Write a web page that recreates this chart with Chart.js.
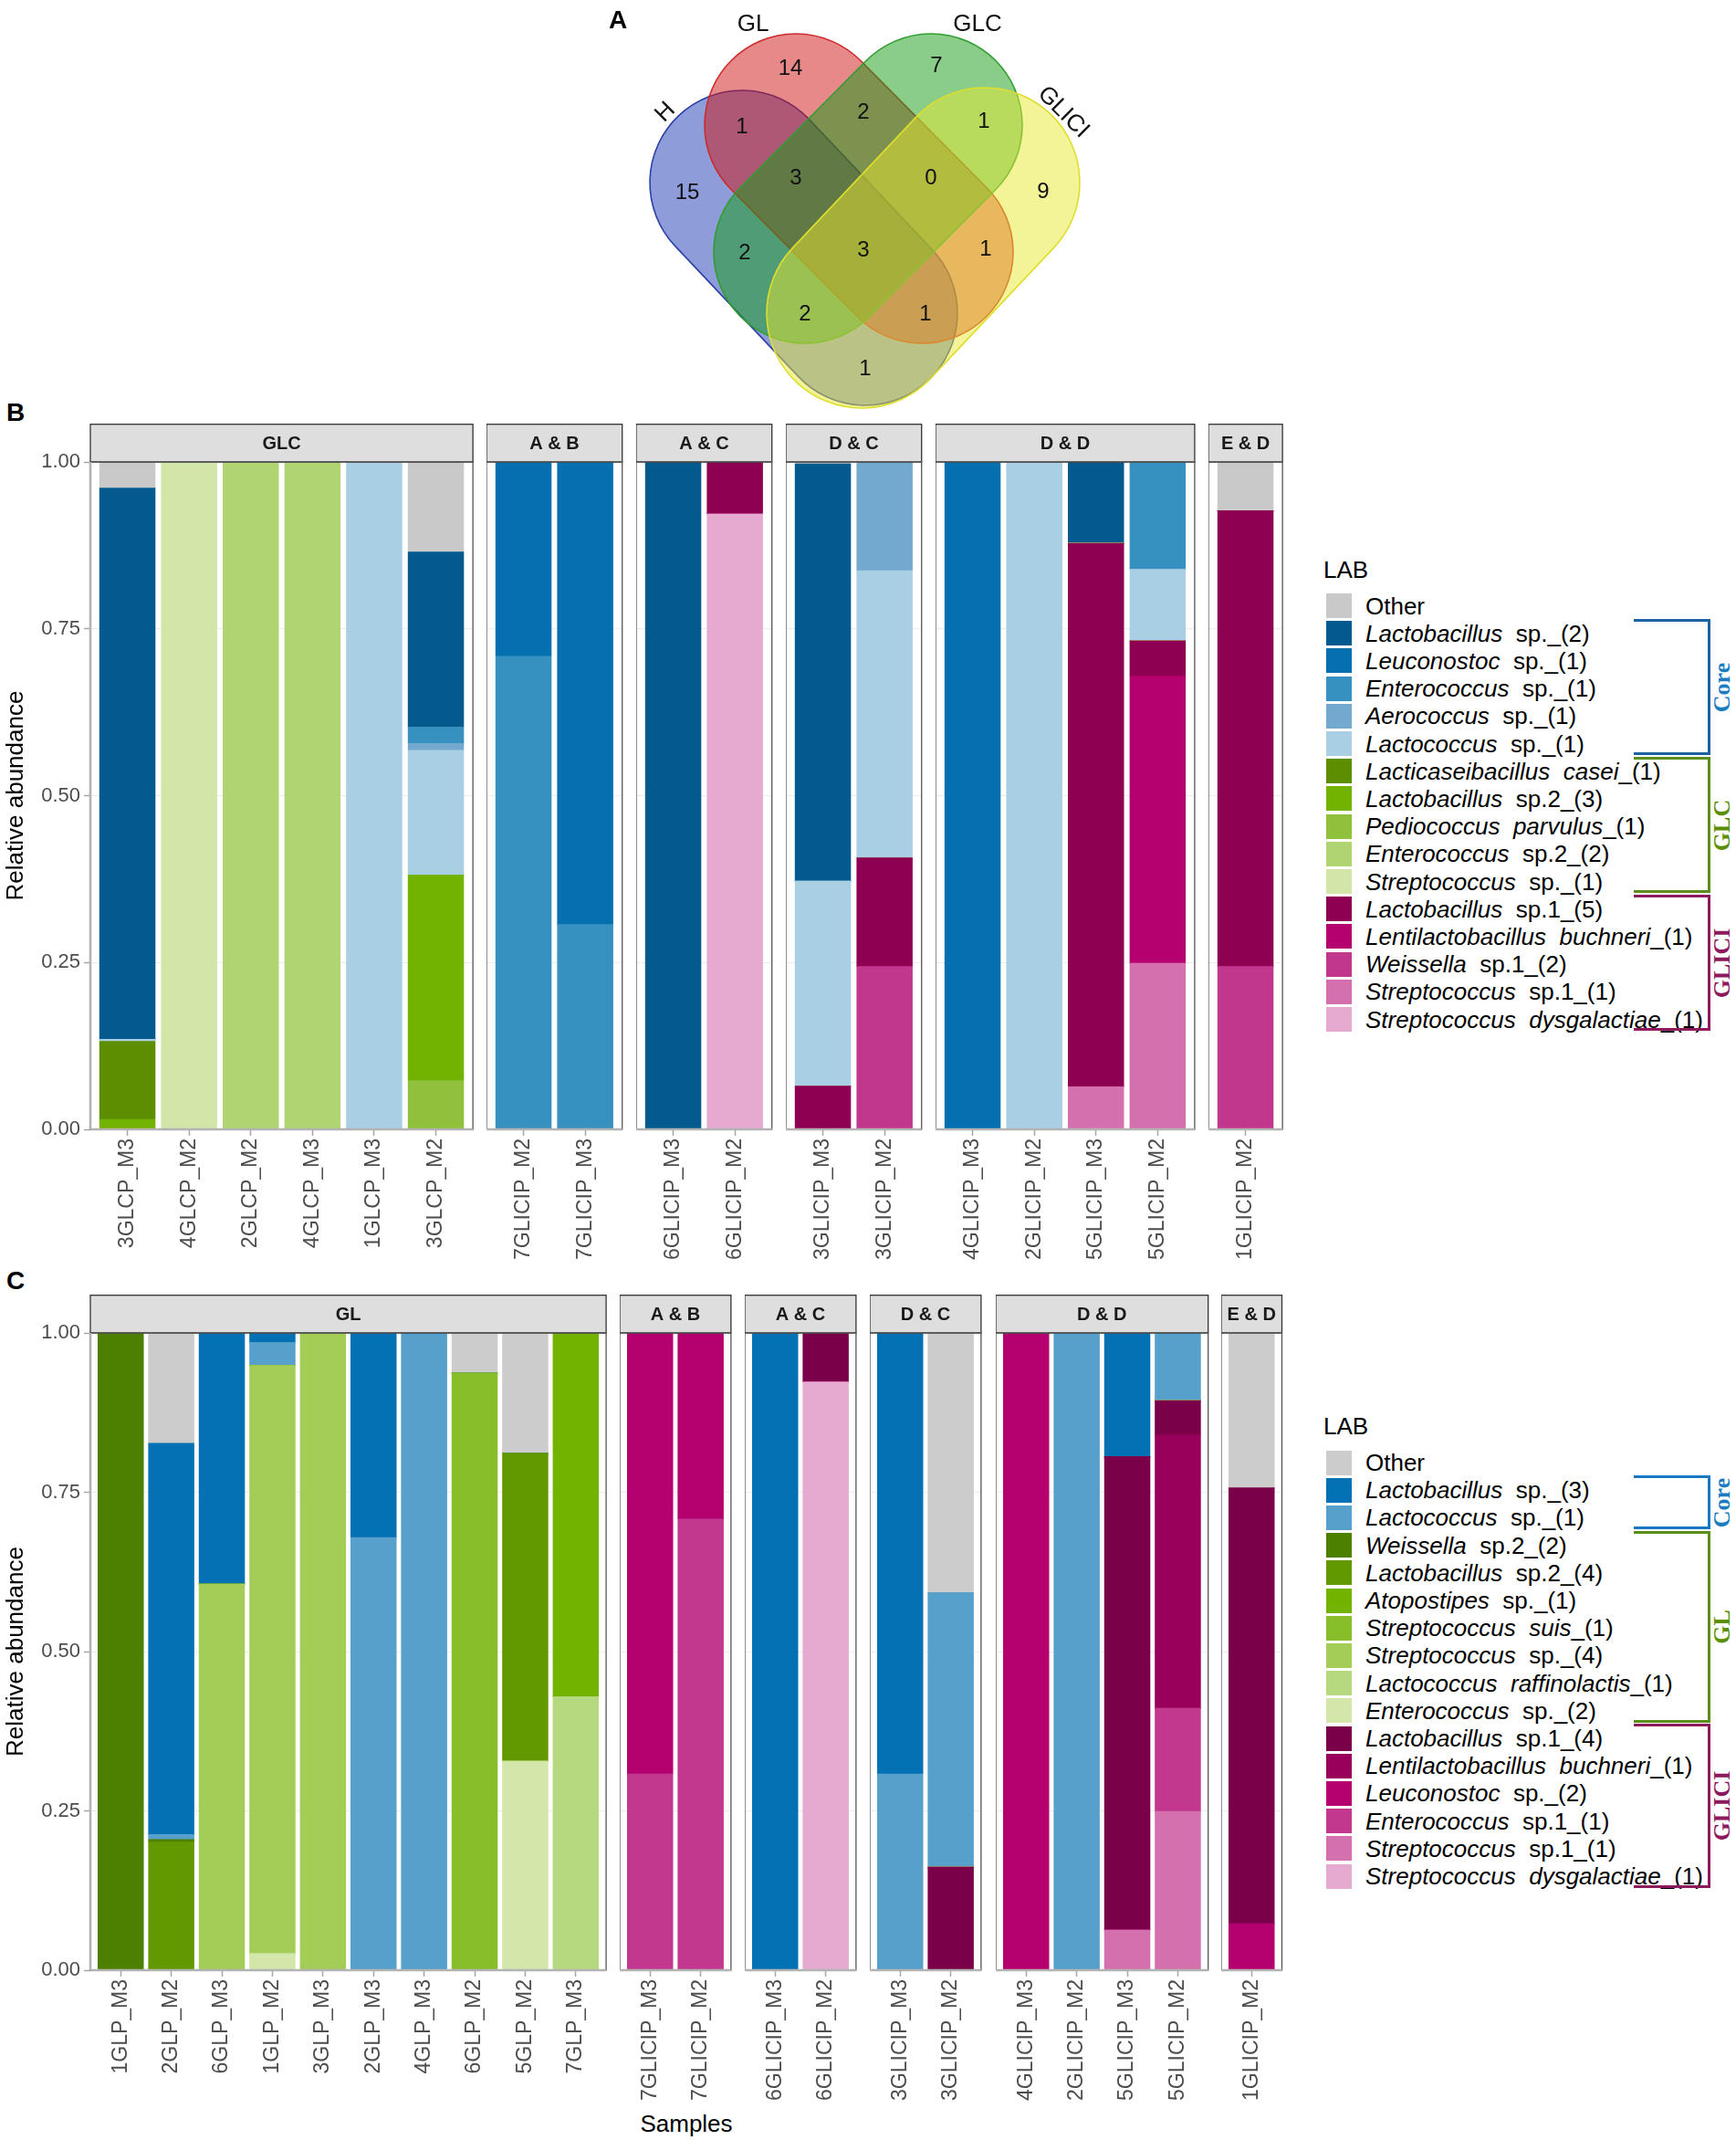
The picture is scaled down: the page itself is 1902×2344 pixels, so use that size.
<!DOCTYPE html>
<html>
<head>
<meta charset="utf-8">
<script src="https://cdn.jsdelivr.net/npm/chart.js@4.4.1/dist/chart.umd.min.js"></script>
<style>
body { margin: 0; background: #fff; }
#fig { position: relative; width: 1902px; height: 2344px; overflow: hidden;
       font-family: "Liberation Sans", Arial, sans-serif; color: #000; }
.abs { position: absolute; }
.tag { position: absolute; font-weight: bold; font-size: 28px; transform: translate(-50%, -50%); }
.legtitle { position: absolute; font-size: 26px; line-height: 30px; }
.legtext { position: absolute; font-size: 26px; line-height: 30px; white-space: pre; }
.sw { position: absolute; width: 28px; height: 27px; }
.brk { position: absolute; border-style: solid; border-width: 3px 3px 3px 0; box-sizing: border-box; }
.brktext { position: absolute; font-family: "Liberation Serif", "DejaVu Serif", serif; font-weight: bold;
           font-size: 26px; transform: translate(-50%, -50%) rotate(-90deg); white-space: nowrap; }
</style>
</head>
<body>
<div id="fig"></div>
<script>
// ---------- A: Venn ----------
const vennSets = ['H', 'GL', 'GLC', 'GLICI'];
const vennRegions = ['H', 'GL', 'GLC', 'GLICI', 'H&GL', 'GL&GLC', 'GLC&GLICI', 'H&GL&GLC',
  'GL&GLC&GLICI', 'H&GLC', 'H&GL&GLC&GLICI', 'GL&GLICI', 'H&GLC&GLICI', 'H&GL&GLICI', 'H&GLICI'];
const vennCounts = [15, 14, 7, 9, 1, 2, 1, 3, 0, 2, 3, 1, 2, 1, 1];

// ---------- B: GLC ----------
const samplesB = ['3GLCP_M3', '4GLCP_M2', '2GLCP_M2', '4GLCP_M3', '1GLCP_M3', '3GLCP_M2',
  '7GLICIP_M2', '7GLICIP_M3', '6GLICIP_M3', '6GLICIP_M2', '3GLICIP_M3', '3GLICIP_M2',
  '4GLICIP_M3', '2GLICIP_M2', '5GLICIP_M3', '5GLICIP_M2', '1GLICIP_M2'];
const facetsB = ['GLC', 'A & B', 'A & C', 'D & C', 'D & D', 'E & D'];
const facetSizesB = [6, 2, 2, 2, 4, 1];
const taxaB = ['Other', 'Lactobacillus sp._(2)', 'Leuconostoc sp._(1)', 'Enterococcus sp._(1)',
  'Aerococcus sp._(1)', 'Lactococcus sp._(1)', 'Lacticaseibacillus casei_(1)', 'Lactobacillus sp.2_(3)',
  'Pediococcus parvulus_(1)', 'Enterococcus sp.2_(2)', 'Streptococcus sp._(1)', 'Lactobacillus sp.1_(5)',
  'Lentilactobacillus buchneri_(1)', 'Weissella sp.1_(2)', 'Streptococcus sp.1_(1)', 'Streptococcus dysgalactiae_(1)'];
const colorsB = ['#c9c9c9', '#045a8d', '#0570b0', '#3690c0', '#74a9cf', '#a9cfe5', '#5b8e00', '#72b200',
  '#8fc13a', '#b1d472', '#d1e6a8', '#8e0152', '#b5006f', '#c2378e', '#d470ad', '#e6a9cf'];

const bOther     = [0.039, 0, 0, 0, 0, 0.135, 0, 0, 0, 0, 0.003, 0, 0, 0, 0, 0, 0.073];
const bLactobSp  = [0.826, 0, 0, 0, 0, 0.262, 0, 0, 1, 0, 0.625, 0, 0, 0, 0.122, 0, 0];
const bLeuconSp  = [0, 0, 0, 0, 0, 0, 0.291, 0.693, 0, 0, 0, 0, 1, 0, 0, 0, 0];
const bEnteroSp  = [0, 0, 0, 0, 0, 0.025, 0.709, 0.307, 0, 0, 0, 0, 0, 0, 0, 0.161, 0];
const bAerocSp   = [0, 0, 0, 0, 0, 0.010, 0, 0, 0, 0, 0, 0.163, 0, 0, 0, 0, 0];
const bLactocSp  = [0.003, 0, 0, 0, 1, 0.187, 0, 0, 0, 0, 0.307, 0.430, 0, 1, 0, 0.107, 0];
const bCasei     = [0.117, 0, 0, 0, 0, 0, 0, 0, 0, 0, 0, 0, 0, 0, 0, 0, 0];
const bLactobSp2 = [0.015, 0, 0, 0, 0, 0.308, 0, 0, 0, 0, 0, 0, 0, 0, 0, 0, 0];
const bPedio     = [0, 0, 0, 0, 0, 0.073, 0, 0, 0, 0, 0, 0, 0, 0, 0, 0, 0];
const bEnteroSp2 = [0, 0, 1, 1, 0, 0, 0, 0, 0, 0, 0, 0, 0, 0, 0, 0, 0];
const bStrepSp   = [0, 1, 0, 0, 0, 0, 0, 0, 0, 0, 0, 0, 0, 0, 0, 0, 0];
const bLactobSp1 = [0, 0, 0, 0, 0, 0, 0, 0, 0, 0.078, 0.065, 0.163, 0, 0, 0.814, 0.053, 0.683];
const bLenti     = [0, 0, 0, 0, 0, 0, 0, 0, 0, 0, 0, 0, 0, 0, 0, 0.430, 0];
const bWeissSp1  = [0, 0, 0, 0, 0, 0, 0, 0, 0, 0, 0, 0.244, 0, 0, 0, 0, 0.244];
const bStrepSp1  = [0, 0, 0, 0, 0, 0, 0, 0, 0, 0, 0, 0, 0, 0, 0.064, 0.249, 0];
const bStrepDysg = [0, 0, 0, 0, 0, 0, 0, 0, 0, 0.922, 0, 0, 0, 0, 0, 0, 0];
const valuesB = [bOther, bLactobSp, bLeuconSp, bEnteroSp, bAerocSp, bLactocSp, bCasei, bLactobSp2,
  bPedio, bEnteroSp2, bStrepSp, bLactobSp1, bLenti, bWeissSp1, bStrepSp1, bStrepDysg];

// ---------- C: GL ----------
const samplesC = ['1GLP_M3', '2GLP_M2', '6GLP_M3', '1GLP_M2', '3GLP_M3', '2GLP_M3', '4GLP_M3', '6GLP_M2',
  '5GLP_M2', '7GLP_M3', '7GLICIP_M3', '7GLICIP_M2', '6GLICIP_M3', '6GLICIP_M2', '3GLICIP_M3', '3GLICIP_M2',
  '4GLICIP_M3', '2GLICIP_M2', '5GLICIP_M3', '5GLICIP_M2', '1GLICIP_M2'];
const facetsC = ['GL', 'A & B', 'A & C', 'D & C', 'D & D', 'E & D'];
const facetSizesC = [10, 2, 2, 2, 4, 1];
const taxaC = ['Other', 'Lactobacillus sp._(3)', 'Lactococcus sp._(1)', 'Weissella sp.2_(2)',
  'Lactobacillus sp.2_(4)', 'Atopostipes sp._(1)', 'Streptococcus suis_(1)', 'Streptococcus sp._(4)',
  'Lactococcus raffinolactis_(1)', 'Enterococcus sp._(2)', 'Lactobacillus sp.1_(4)',
  'Lentilactobacillus buchneri_(1)', 'Leuconostoc sp._(2)', 'Enterococcus sp.1_(1)',
  'Streptococcus sp.1_(1)', 'Streptococcus dysgalactiae_(1)'];
const colorsC = ['#cccccc', '#0571b5', '#56a0cc', '#4e8000', '#629900', '#72b300', '#89be2b', '#a3cd56',
  '#b6d97f', '#d2e7a9', '#7a0049', '#99005c', '#b5006f', '#c2388f', '#d470ad', '#e6a9cf'];

const cOther     = [0, 0.173, 0, 0, 0, 0, 0, 0.063, 0.189, 0, 0, 0, 0, 0, 0, 0.408, 0, 0, 0, 0, 0.243];
const cLactobSp  = [0, 0.614, 0.394, 0.015, 0, 0.321, 0, 0, 0, 0, 0, 0, 1, 0, 0.692, 0, 0, 0, 0.194, 0, 0];
const cLactocSp  = [0, 0.008, 0, 0.036, 0, 0.679, 1, 0, 0, 0, 0, 0, 0, 0, 0.308, 0.430, 0, 1, 0, 0.106, 0];
const cWeissSp2  = [1, 0.004, 0, 0, 0, 0, 0, 0, 0, 0, 0, 0, 0, 0, 0, 0, 0, 0, 0, 0, 0];
const cLactobSp2 = [0, 0.201, 0, 0, 0, 0, 0, 0, 0.483, 0, 0, 0, 0, 0, 0, 0, 0, 0, 0, 0, 0];
const cAtopo     = [0, 0, 0, 0, 0, 0, 0, 0, 0, 0.571, 0, 0, 0, 0, 0, 0, 0, 0, 0, 0, 0];
const cStrepSuis = [0, 0, 0, 0, 0, 0, 0, 0.937, 0, 0, 0, 0, 0, 0, 0, 0, 0, 0, 0, 0, 0];
const cStrepSp   = [0, 0, 0.606, 0.923, 1, 0, 0, 0, 0, 0, 0, 0, 0, 0, 0, 0, 0, 0, 0, 0, 0];
const cRaffino   = [0, 0, 0, 0, 0, 0, 0, 0, 0, 0.429, 0, 0, 0, 0, 0, 0, 0, 0, 0, 0, 0];
const cEnteroSp  = [0, 0, 0, 0.026, 0, 0, 0, 0, 0.328, 0, 0, 0, 0, 0, 0, 0, 0, 0, 0, 0, 0];
const cLactobSp1 = [0, 0, 0, 0, 0, 0, 0, 0, 0, 0, 0, 0, 0, 0.077, 0, 0.162, 0, 0, 0.743, 0.054, 0.684];
const cLenti     = [0, 0, 0, 0, 0, 0, 0, 0, 0, 0, 0, 0, 0, 0, 0, 0, 0, 0, 0, 0.429, 0];
const cLeuconSp  = [0, 0, 0, 0, 0, 0, 0, 0, 0, 0, 0.692, 0.292, 0, 0, 0, 0, 1, 0, 0, 0, 0.073];
const cEnteroSp1 = [0, 0, 0, 0, 0, 0, 0, 0, 0, 0, 0.308, 0.708, 0, 0, 0, 0, 0, 0, 0, 0.162, 0];
const cStrepSp1  = [0, 0, 0, 0, 0, 0, 0, 0, 0, 0, 0, 0, 0, 0, 0, 0, 0, 0, 0.063, 0.249, 0];
const cStrepDysg = [0, 0, 0, 0, 0, 0, 0, 0, 0, 0, 0, 0, 0, 0.923, 0, 0, 0, 0, 0, 0, 0];
const valuesC = [cOther, cLactobSp, cLactocSp, cWeissSp2, cLactobSp2, cAtopo, cStrepSuis, cStrepSp,
  cRaffino, cEnteroSp, cLactobSp1, cLenti, cLeuconSp, cEnteroSp1, cStrepSp1, cStrepDysg];

const yTicks = [0, 0.25, 0.5, 0.75, 1];

// ---------- layout ----------
Chart.defaults.font.family = '"Liberation Sans", Arial, sans-serif';
const fig = document.getElementById('fig');
const X0 = 99, GAP = 15.2;

function addDiv(cls, html, css) {
  const d = document.createElement('div');
  d.className = cls;
  d.innerHTML = html;
  Object.assign(d.style, css);
  fig.appendChild(d);
  return d;
}

// strip, panel border, axis lines
const facetDeco = {
  id: 'facetDeco',
  afterDraw(chart, args, o) {
    const { ctx, chartArea: a } = chart;
    ctx.save();
    ctx.fillStyle = '#dedede';
    ctx.fillRect(a.left, a.top - o.stripH, a.width, o.stripH);
    ctx.strokeStyle = '#333333';
    ctx.lineWidth = 1.3;
    ctx.strokeRect(a.left, a.top - o.stripH + 0.7, a.width, o.stripH - 0.7);
    ctx.fillStyle = '#1a1a1a';
    ctx.font = 'bold 20px "Liberation Sans", Arial, sans-serif';
    ctx.textAlign = 'center';
    ctx.textBaseline = 'middle';
    ctx.fillText(o.label, (a.left + a.right) / 2, a.top - o.stripH / 2 + 1);
    ctx.strokeStyle = '#555555';
    ctx.strokeRect(a.left, a.top, a.width, a.height);
    ctx.strokeStyle = '#b3b3b3';
    ctx.lineWidth = 2.6;
    ctx.beginPath();
    if (o.first) { ctx.moveTo(a.left, a.top); ctx.lineTo(a.left, a.bottom); }
    ctx.moveTo(a.left, a.bottom);
    ctx.lineTo(a.right, a.bottom);
    ctx.stroke();
    ctx.restore();
  }
};

function drawRow(row) {
  let left = X0, start = 0;
  const pad = 0.1 * row.unit;
  row.facets.forEach((name, f) => {
    const n = row.sizes[f];
    const w = n * row.unit + 2 * pad;
    const first = f === 0;
    const yW = first ? X0 : 0;
    const boxLeft = Math.round(left - yW);
    const cw = Math.ceil(yW + w + 3);
    const padRight = cw - yW - w;
    const ch = row.stripH + row.plotH + row.axisH;
    const box = addDiv('abs', '', { left: boxLeft + 'px', top: row.top + 'px' });
    const cv = document.createElement('canvas');
    cv.width = cw;
    cv.height = ch;
    box.appendChild(cv);

    const names = row.samples.slice(start, start + n);
    const idx = names.map((_, i) => i);
    const datasets = [];
    for (let t = row.taxa.length - 1; t >= 0; t--) {
      datasets.push({
        label: row.taxa[t],
        data: row.values[t].slice(start, start + n),
        backgroundColor: row.colors[t],
        borderWidth: 0,
        barThickness: 0.9 * row.unit
      });
    }
    new Chart(cv, {
      type: 'bar',
      data: { labels: idx, datasets },
      options: {
        responsive: false,
        animation: false,
        layout: { padding: { top: row.stripH, right: padRight, left: 0, bottom: 0 } },
        plugins: {
          legend: { display: false },
          tooltip: { enabled: false },
          facetDeco: { label: name, stripH: row.stripH, first }
        },
        scales: {
          x: {
            type: 'linear',
            offset: false,
            stacked: true,
            min: -0.5 - pad / row.unit,
            max: n - 0.5 + pad / row.unit,
            afterBuildTicks: s => { s.ticks = idx.map(v => ({ value: v })); },
            afterFit: s => { s.height = row.axisH; },
            ticks: {
              autoSkip: false, minRotation: 90, maxRotation: 90, padding: 3,
              color: '#4d4d4d', font: { size: 23 },
              callback: (v, i) => names[i]
            },
            grid: { offset: false, color: '#ececec', tickColor: '#a6a6a6', tickLength: 7, tickWidth: 1.5 },
            border: { display: false }
          },
          y: {
            type: 'linear',
            stacked: true,
            min: 0,
            max: 1,
            afterBuildTicks: s => { s.ticks = yTicks.map(v => ({ value: v })); },
            afterFit: s => { s.width = yW; },
            ticks: {
              display: first, padding: 4, color: '#4d4d4d', font: { size: 22 },
              callback: v => v.toFixed(2)
            },
            grid: { color: '#ececec', drawTicks: first, tickColor: '#a6a6a6', tickLength: 7, tickWidth: 1.5 },
            border: { display: false },
            title: {
              display: first, text: 'Relative abundance', color: '#000',
              font: { size: 26 }, padding: { top: 2, bottom: 0 }
            }
          }
        }
      },
      plugins: [facetDeco]
    });
    left += w + GAP;
    start += n;
  });
}

function fmtTaxon(name) {
  if (name === 'Other') return 'Other';
  const sp = name.indexOf(' ');
  const genus = name.slice(0, sp), rest = name.slice(sp + 1);
  if (rest.startsWith('sp')) return '<i>' + genus + '</i>  ' + rest;
  const u = rest.indexOf('_');
  return '<i>' + genus + '</i>  <i>' + rest.slice(0, u) + '</i>' + rest.slice(u);
}

function drawLegend(taxa, colors, titleY, firstY, groups) {
  const step = 30.2;
  addDiv('legtitle', 'LAB', { left: '1450px', top: (titleY - 15) + 'px' });
  taxa.forEach((t, i) => {
    const c = firstY + i * step;
    addDiv('sw', '', { left: '1453px', top: (c - 13.5) + 'px', background: colors[i] });
    addDiv('legtext', fmtTaxon(t), { left: '1496px', top: (c - 15) + 'px' });
  });
  groups.forEach(g => {
    const top = firstY + g.from * step - 16;
    const bot = firstY + g.to * step + 13;
    addDiv('brk', '', { left: '1790px', width: '84px', top: top + 'px', height: (bot - top) + 'px', borderColor: g.line });
    addDiv('brktext', g.name, { left: '1887px', top: ((top + bot) / 2) + 'px', color: g.text });
  });
}

// ---------- Venn drawing ----------
const vennCaps = [[813, 200, 948, 343], [872, 137, 1010, 276], [1020, 137, 882, 276], [1079, 200, 944, 343]];
const vennRadius = [101, 100, 100, 104];
const vennFill = ['rgba(30,60,180,0.5)', 'rgba(210,20,20,0.5)', 'rgba(20,155,20,0.5)', 'rgba(232,232,50,0.5)'];
const vennLine = ['#2c3fa6', '#cc2a2a', '#2f9d2f', '#dede2e'];
const vennLabelXY = [[753, 211], [866, 75], [1026, 72], [1143, 210], [813, 139], [946, 123], [1078, 133],
  [872, 195], [1020, 195], [816, 277], [946, 274], [1080, 273], [882, 344], [1014, 344], [948, 404]];
const vennSetXY = [[729, 123, -45], [825, 27, 0], [1071, 27, 0], [1165, 123, 45]];

const vennDraw = {
  id: 'vennDraw',
  beforeDatasetsDraw(chart) {
    const { ctx, scales: { x, y } } = chart;
    ctx.save();
    vennCaps.forEach((c, i) => {
      const x1 = x.getPixelForValue(c[0]), y1 = y.getPixelForValue(c[1]);
      const x2 = x.getPixelForValue(c[2]), y2 = y.getPixelForValue(c[3]);
      const r = x.getPixelForValue(c[0] + vennRadius[i]) - x1;
      const a = Math.atan2(y2 - y1, x2 - x1);
      ctx.beginPath();
      ctx.arc(x1, y1, r, a + Math.PI / 2, a + 3 * Math.PI / 2);
      ctx.arc(x2, y2, r, a - Math.PI / 2, a + Math.PI / 2);
      ctx.closePath();
      ctx.fillStyle = vennFill[i];
      ctx.fill();
      ctx.strokeStyle = vennLine[i];
      ctx.lineWidth = 1.6;
      ctx.stroke();
    });
    ctx.restore();
  },
  afterDatasetsDraw(chart) {
    const { ctx, scales: { x, y } } = chart;
    const meta = chart.getDatasetMeta(0);
    ctx.save();
    ctx.fillStyle = '#111';
    ctx.textAlign = 'center';
    ctx.textBaseline = 'middle';
    ctx.font = '24px "Liberation Sans", Arial, sans-serif';
    meta.data.forEach((pt, i) => ctx.fillText(String(vennCounts[i]), pt.x, pt.y));
    ctx.font = '26px "Liberation Sans", Arial, sans-serif';
    vennSets.forEach((s, i) => {
      const p = vennSetXY[i];
      ctx.save();
      ctx.translate(x.getPixelForValue(p[0]), y.getPixelForValue(p[1]));
      ctx.rotate(p[2] * Math.PI / 180);
      ctx.fillText(s, 0, 0);
      ctx.restore();
    });
    ctx.restore();
  }
};

function drawVenn() {
  const box = addDiv('abs', '', { left: '600px', top: '0px' });
  const cv = document.createElement('canvas');
  cv.width = 700;
  cv.height = 470;
  box.appendChild(cv);
  new Chart(cv, {
    type: 'scatter',
    data: {
      labels: vennRegions,
      datasets: [{ data: vennLabelXY.map(p => ({ x: p[0], y: p[1] })), pointRadius: 0 }]
    },
    options: {
      responsive: false,
      animation: false,
      layout: { padding: 0 },
      plugins: { legend: { display: false }, tooltip: { enabled: false } },
      scales: {
        x: { type: 'linear', min: 600, max: 1300, display: false },
        y: { type: 'linear', min: 0, max: 470, reverse: true, display: false }
      }
    },
    plugins: [vennDraw]
  });
}

// ---------- build ----------
drawVenn();
addDiv('tag', 'A', { left: '677px', top: '22px' });
addDiv('tag', 'B', { left: '17px', top: '452px' });
addDiv('tag', 'C', { left: '17px', top: '1403px' });

drawRow({ samples: samplesB, facets: facetsB, sizes: facetSizesB, taxa: taxaB, colors: colorsB,
  values: valuesB, unit: 67.6, top: 464, stripH: 42, plotH: 731, axisH: 160 });
drawRow({ samples: samplesC, facets: facetsC, sizes: facetSizesC, taxa: taxaC, colors: colorsC,
  values: valuesC, unit: 55.4, top: 1418, stripH: 42, plotH: 698, axisH: 150 });

drawLegend(taxaB, colorsB, 624, 663.5, [
  { name: 'Core', from: 1, to: 5, line: '#1a63a0', text: '#1b7cc2' },
  { name: 'GLC', from: 6, to: 10, line: '#5b8e1b', text: '#5a8f00' },
  { name: 'GLICI', from: 11, to: 15, line: '#8c1a5c', text: '#8e1a5e' }
]);
drawLegend(taxaC, colorsC, 1562, 1602, [
  { name: 'Core', from: 1, to: 2, line: '#1a78c2', text: '#1b7cc2' },
  { name: 'GL', from: 3, to: 9, line: '#5b8e1b', text: '#5a8f00' },
  { name: 'GLICI', from: 10, to: 15, line: '#8c1a5c', text: '#8e1a5e' }
]);

addDiv('abs', 'Samples', { left: '752px', top: '2326px', fontSize: '26px', transform: 'translate(-50%, -50%)' });
</script>
</body>
</html>
